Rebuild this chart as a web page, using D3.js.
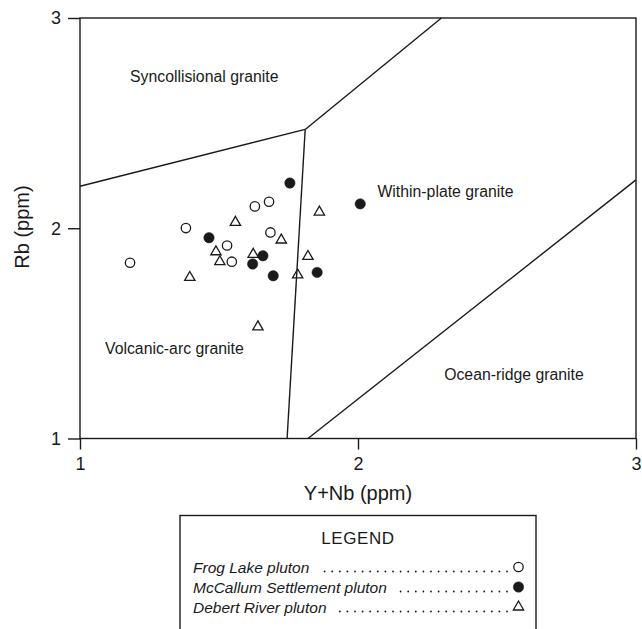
<!DOCTYPE html>
<html>
<head>
<meta charset="utf-8">
<script src="https://cdn.jsdelivr.net/npm/d3@7"></script>
<style>
  html, body { margin: 0; padding: 0; background: #fff; }
  svg { display: block; font-family: "Liberation Sans", Arial, Helvetica, sans-serif; }
</style>
</head>
<body>
<svg id="chart" width="642" height="629"></svg>
<script>
// ---- data (log units) ----
const tickValues = [1, 2, 3];

const frogLake = [
  [1.18, 1.836], [1.381, 2.001], [1.629, 2.104], [1.680, 2.126],
  [1.685, 1.980], [1.529, 1.918], [1.546, 1.841]
];
const mcCallum = [
  [1.755, 2.215], [2.008, 2.116], [1.464, 1.955], [1.658, 1.869],
  [1.621, 1.830], [1.695, 1.774], [1.853, 1.790]
];
const debertRiver = [
  [1.559, 2.028], [1.861, 2.077], [1.724, 1.944], [1.489, 1.888],
  [1.623, 1.876], [1.503, 1.841], [1.820, 1.866], [1.395, 1.766],
  [1.783, 1.778], [1.640, 1.531]
];

// field boundaries
const synColBoundary = [[1, 2.20], [1.81, 2.47]];
const upperBoundary = [[1.81, 2.47], [2.30, 3]];
const wpgBoundary = [[1.81, 2.47], [1.745, 1]];
const orgBoundary = [[1.82, 1], [3, 2.23]];

const fieldLabels = [
  {text: "Syncollisional granite", x: 1.18, y: 2.72},
  {text: "Within-plate granite", x: 2.07, y: 2.175},
  {text: "Volcanic-arc granite", x: 1.09, y: 1.43},
  {text: "Ocean-ridge granite", x: 2.31, y: 1.305}
];

const legendRows = ["Frog Lake pluton", "McCallum Settlement pluton", "Debert River pluton"];

// ---- layout ----
const svg = d3.select("#chart");
const ink = "#1a1a1a";

const x = d3.scaleLinear().domain([1, 3]).range([80, 636]);
const y = d3.scaleLinear().domain([1, 3]).range([438.5, 18]);

// frame
svg.append("rect")
  .attr("x", x(1)).attr("y", y(3))
  .attr("width", x(3) - x(1)).attr("height", y(1) - y(3))
  .attr("fill", "none").attr("stroke", ink).attr("stroke-width", 1.4);

// axes
const xAxis = svg.append("g")
  .attr("transform", `translate(0,${y(1)})`)
  .call(d3.axisBottom(x).tickValues(tickValues).tickFormat(d3.format("d")).tickSize(11).tickPadding(8));
const yAxis = svg.append("g")
  .attr("transform", `translate(${x(1)},0)`)
  .call(d3.axisLeft(y).tickValues(tickValues).tickFormat(d3.format("d")).tickSize(12).tickPadding(7));

[xAxis, yAxis].forEach(g => {
  g.select(".domain").remove();
  g.selectAll("line").attr("stroke", ink).attr("stroke-width", 1.4);
  g.selectAll("text").attr("fill", ink).style("font-size", "18px")
    .style("font-family", "'Liberation Sans', Arial, sans-serif");
});

// axis titles
svg.append("text")
  .attr("x", 358).attr("y", 500)
  .attr("text-anchor", "middle")
  .attr("fill", ink).style("font-size", "20px")
  .text("Y+Nb (ppm)");
svg.append("text")
  .attr("transform", "translate(29,227) rotate(-90)")
  .attr("text-anchor", "middle")
  .attr("fill", ink).style("font-size", "20px")
  .text("Rb (ppm)");

// boundaries
const line = d3.line().x(d => x(d[0])).y(d => y(d[1]));
[synColBoundary, upperBoundary, wpgBoundary, orgBoundary].forEach(b => {
  svg.append("path")
    .attr("d", line(b))
    .attr("fill", "none").attr("stroke", ink).attr("stroke-width", 1.4);
});

// field labels
svg.selectAll(".field")
  .data(fieldLabels)
  .enter().append("text")
  .attr("class", "field")
  .attr("x", d => x(d.x)).attr("y", d => y(d.y))
  .attr("dy", "0.35em")
  .attr("fill", ink).style("font-size", "15.8px")
  .text(d => d.text);

// symbols
const tri = d3.symbol().type(d3.symbolTriangle).size(46);

function drawSeries(g, data, kind) {
  if (kind === "tri") {
    g.selectAll(null).data(data).enter().append("path")
      .attr("d", tri)
      .attr("transform", d => `translate(${x(d[0])},${y(d[1])})`)
      .attr("fill", "none").attr("stroke", ink).attr("stroke-width", 1.3);
  } else {
    g.selectAll(null).data(data).enter().append("circle")
      .attr("cx", d => x(d[0])).attr("cy", d => y(d[1]))
      .attr("r", kind === "open" ? 4.7 : 5.2)
      .attr("fill", kind === "open" ? "none" : ink)
      .attr("stroke", ink).attr("stroke-width", kind === "open" ? 1.3 : 0.5);
  }
}
const pts = svg.append("g");
drawSeries(pts, frogLake, "open");
drawSeries(pts, mcCallum, "filled");
drawSeries(pts, debertRiver, "tri");

// legend
const legend = svg.append("g");
legend.append("rect")
  .attr("x", 180).attr("y", 515.5)
  .attr("width", 356).attr("height", 140)
  .attr("fill", "none").attr("stroke", ink).attr("stroke-width", 1.4);
legend.append("text")
  .attr("x", 358).attr("y", 543.5)
  .attr("text-anchor", "middle")
  .attr("fill", ink).style("font-size", "17px").style("letter-spacing", "0.6px")
  .text("LEGEND");

const kinds = ["open", "filled", "tri"];
const rowY = [567, 587, 607];
legendRows.forEach((label, i) => {
  const t = legend.append("text")
    .attr("x", 193).attr("y", rowY[i] + 5.5)
    .attr("fill", ink).style("font-size", "15.5px").style("font-style", "italic")
    .text(label);
  const end = 193 + t.node().getComputedTextLength() + 10;
  const dots = d3.range(507, end, -7.6);
  legend.selectAll(null).data(dots).enter().append("circle")
    .attr("cx", d => d).attr("cy", rowY[i] + 4.5)
    .attr("r", 0.9).attr("fill", ink);
  const sx = x.invert(518.5), sy = y.invert(rowY[i]);
  drawSeries(legend, [[sx, sy]], kinds[i]);
});
</script>
</body>
</html>
